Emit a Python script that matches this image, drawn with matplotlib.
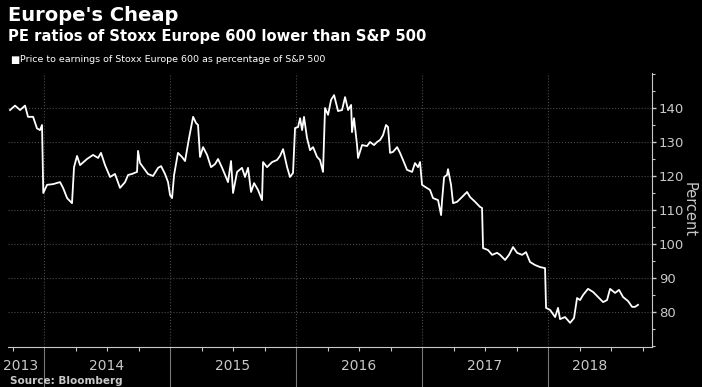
import numpy as np
import matplotlib.pyplot as plt
from matplotlib.ticker import MultipleLocator, FixedLocator

# time in decimal years
t_year = [2013.730, 2013.770, 2013.810, 2013.849, 2013.873, 2013.913, 2013.944, 2013.968,
          2013.984, 2013.994, 2014.024, 2014.071, 2014.127, 2014.151, 2014.183, 2014.222,
          2014.238, 2014.262, 2014.286, 2014.341, 2014.389, 2014.429, 2014.452, 2014.484,
          2014.524, 2014.563, 2014.603, 2014.643, 2014.667, 2014.698, 2014.738, 2014.746,
          2014.762, 2014.786, 2014.825, 2014.865, 2014.905, 2014.929, 2014.960, 2014.984,
          2015.000, 2015.016, 2015.032, 2015.063, 2015.095, 2015.119, 2015.151, 2015.183,
          2015.206, 2015.222, 2015.238, 2015.262, 2015.294, 2015.325, 2015.357, 2015.381,
          2015.413, 2015.437, 2015.460, 2015.484, 2015.500, 2015.532, 2015.571, 2015.595,
          2015.619, 2015.643, 2015.667, 2015.698, 2015.730, 2015.738, 2015.770, 2015.810,
          2015.849, 2015.873, 2015.897, 2015.929, 2015.952, 2015.976, 2015.992, 2016.016,
          2016.032, 2016.048, 2016.063, 2016.087, 2016.111, 2016.135, 2016.167, 2016.190,
          2016.214, 2016.230, 2016.254, 2016.278, 2016.302, 2016.333, 2016.365, 2016.389,
          2016.413, 2016.437, 2016.444, 2016.460, 2016.484, 2016.492, 2016.524, 2016.563,
          2016.587, 2016.619, 2016.643, 2016.667, 2016.690, 2016.714, 2016.730, 2016.746,
          2016.770, 2016.802, 2016.825, 2016.849, 2016.881, 2016.921, 2016.944, 2016.968,
          2016.984, 2017.000, 2017.024, 2017.063, 2017.087, 2017.127, 2017.151, 2017.159,
          2017.175, 2017.198, 2017.206, 2017.230, 2017.246, 2017.278, 2017.317, 2017.357,
          2017.381, 2017.421, 2017.460, 2017.476, 2017.484, 2017.524, 2017.556, 2017.595,
          2017.619, 2017.659, 2017.690, 2017.722, 2017.754, 2017.794, 2017.825, 2017.857,
          2017.897, 2017.937, 2017.976, 2017.984, 2018.016, 2018.056, 2018.079, 2018.095,
          2018.135, 2018.175, 2018.206, 2018.230, 2018.254, 2018.278, 2018.317, 2018.357,
          2018.397, 2018.437, 2018.468, 2018.492, 2018.532, 2018.563, 2018.595, 2018.635,
          2018.667, 2018.690, 2018.714]

pe_pct = [139.4, 140.7, 139.4, 140.7, 137.4, 137.4, 134.0, 133.5,
          135.0, 115.0, 117.4, 117.6, 118.2, 116.5, 113.5, 112.0,
          122.6, 125.9, 123.2, 125.0, 126.2, 125.3, 126.8, 123.2,
          119.7, 120.6, 116.5, 118.2, 120.3, 120.6, 121.2, 127.4,
          123.8, 122.6, 120.6, 120.0, 122.4, 122.9, 120.6, 118.2,
          114.4, 113.5, 120.3, 126.8, 125.6, 124.4, 131.2, 137.4,
          135.6, 135.0, 125.6, 128.5, 126.2, 122.6, 123.5, 125.0,
          122.4, 120.3, 118.2, 124.4, 115.0, 121.2, 122.4, 119.7,
          122.4, 115.3, 117.9, 115.9, 112.9, 124.1, 122.6, 124.1,
          124.7, 125.9, 127.9, 122.6, 119.7, 120.9, 134.1, 134.4,
          137.0, 133.5, 137.4, 131.2, 127.6, 128.5, 125.6, 124.7,
          121.2, 140.0, 138.0, 142.4, 143.8, 139.1, 139.4, 143.2,
          139.4, 140.9, 132.9, 137.0, 129.1, 125.3, 129.1, 128.8,
          130.0, 129.1, 130.0, 130.6, 132.0, 135.0, 134.4, 126.8,
          127.1, 128.5, 126.8, 124.7, 121.8, 121.2, 123.8, 122.6,
          124.1, 117.4, 116.8, 115.9, 113.5, 112.9, 108.5, 112.9,
          119.7, 120.3, 122.0, 117.4, 112.0, 112.4, 113.8, 115.3,
          113.8, 112.4, 110.9, 110.6, 98.8, 98.2, 96.8, 97.4,
          96.8, 95.3, 96.8, 99.1, 97.4, 96.8, 97.6, 94.7,
          93.8, 93.2, 92.9, 81.2, 80.6, 78.5, 81.2, 77.9,
          78.5, 76.8, 78.2, 84.1, 83.5, 85.0, 86.8, 85.9,
          84.4, 82.9, 83.5, 86.8, 85.6, 86.5, 84.4, 83.2,
          81.5, 81.5, 82.1]

years = [2013, 2014, 2015, 2016, 2017, 2018]
year_label_pos = [2013.81, 2014.5, 2015.5, 2016.5, 2017.5, 2018.33]

grey = '#c8c8c8'

fig = plt.figure(figsize=(7.02, 3.87), dpi=100, facecolor='black')
ax = fig.add_axes([0.0114, 0.1034, 0.9174, 0.708], facecolor='black')

ax.plot(t_year, pe_pct, color='white', linewidth=1.3)

ax.set_xlim(2013.714, 2018.825)
ax.set_ylim(69.7, 150.3)

# right axis
ax.yaxis.tick_right()
ax.yaxis.set_label_position('right')
ax.yaxis.set_minor_locator(MultipleLocator(5))
ax.set_yticks([80, 90, 100, 110, 120, 130, 140])
ax.tick_params(axis='y', which='major', colors=grey, labelsize=9.5, length=3, width=1, pad=2)
ax.tick_params(axis='y', which='minor', colors=grey, length=2, width=0.8)
ax.set_ylabel('Percent', color=grey, fontsize=10.5, rotation=-90, labelpad=9)

# bottom axis: quarterly minor ticks, year separators drawn as long ticks
ax.xaxis.set_major_locator(FixedLocator(years[1:]))
ax.xaxis.set_minor_locator(MultipleLocator(0.25))
ax.tick_params(axis='x', which='major', colors='#777777', length=30, width=0.8, labelbottom=False)
ax.tick_params(axis='x', which='minor', colors=grey, length=3, width=0.8)
for yr, xp in zip(years, year_label_pos):
    ax.text(xp, -0.07, str(yr), transform=ax.get_xaxis_transform(), color=grey,
            fontsize=10, ha='center', va='center')

for s in ['top', 'left']:
    ax.spines[s].set_visible(False)
ax.spines['right'].set_color(grey)
ax.spines['bottom'].set_color(grey)

ax.grid(True, which='major', color='#4a4a4a', linestyle=':', linewidth=0.8)

fig.text(0.011, 0.985, "Europe's Cheap", color='white', fontsize=14, fontweight='bold', va='top')
fig.text(0.011, 0.925, 'PE ratios of Stoxx Europe 600 lower than S&P 500', color='white',
         fontsize=10.6, fontweight='bold', va='top')
fig.text(0.014, 0.845, '\u25a0', color='white', fontsize=7, va='center')
fig.text(0.028, 0.845, 'Price to earnings of Stoxx Europe 600 as percentage of S&P 500',
         color='white', fontsize=6.8, va='center')
fig.text(0.014, 0.003, 'Source: Bloomberg', color=grey, fontsize=7.5, fontweight='bold', va='bottom')

fig.savefig('out.png', dpi=100, facecolor='black')
